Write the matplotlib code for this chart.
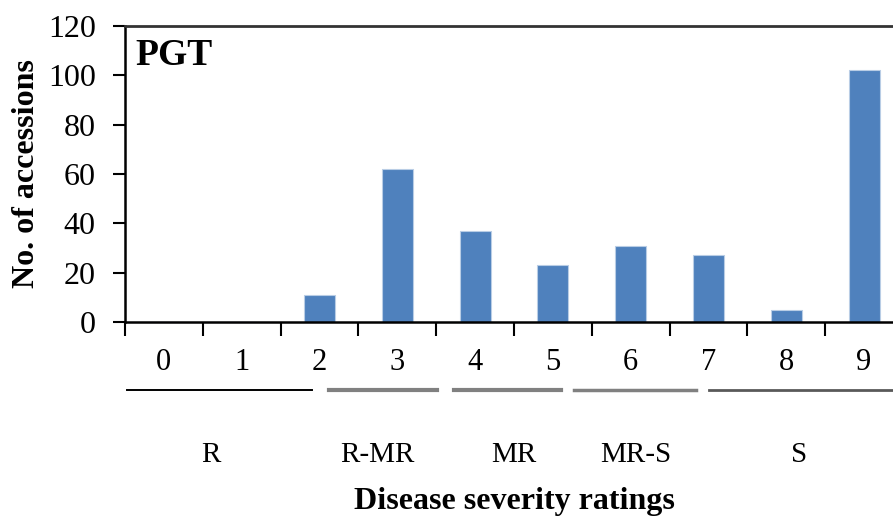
import numpy as np
import matplotlib.pyplot as plt
import matplotlib.transforms as mtransforms

plt.rcParams['font.family'] = ['Liberation Serif', 'DejaVu Serif']

ratings = ['0', '1', '2', '3', '4', '5', '6', '7', '8', '9']
accessions = [0, 0, 11, 62, 37, 23, 31, 27, 5, 102]

groups = ['R', 'R-MR', 'MR', 'MR-S', 'S']

fig = plt.figure(figsize=(8.93, 5.17), dpi=100)
ax = fig.add_axes([0.14, 0.3772, 0.8712, 0.5725])

x = np.arange(len(ratings))
ax.bar(x, accessions, width=0.4, color='#4f81bd', edgecolor='#b9cde5', linewidth=0.8, zorder=2)

ax.set_xlim(-0.5, len(ratings) - 0.5)
ax.set_ylim(0, 120)
ax.set_yticks(range(0, 121, 20))
ax.set_xticks(np.arange(-0.5, len(ratings), 1.0), minor=False)
ax.set_xticklabels([])
ax.set_xticks(x, minor=True)
ax.set_xticklabels(ratings, minor=True)
ax.tick_params(axis='x', which='major', length=10, width=1.5, direction='out')
ax.tick_params(axis='x', which='minor', length=0, pad=19, labelsize=22)
ax.tick_params(axis='y', length=9, width=1.5, direction='out', labelsize=23, pad=12)

for s in ['left', 'bottom']:
    ax.spines[s].set_linewidth(1.8)
ax.spines['top'].set_linewidth(2)
ax.spines['top'].set_color('#333333')

ax.set_ylabel('No. of accessions', fontsize=23, fontweight='bold')
ax.yaxis.set_label_coords(-0.108, 0.5)
ax.set_xlabel('Disease severity ratings', fontsize=23, fontweight='bold')
ax.xaxis.set_label_coords(0.5, -0.556)

ax.text(0.013, 0.90, 'PGT', transform=ax.transAxes, fontsize=27, fontweight='bold',
        ha='left', va='center')

# group underlines and labels below the ratings
trans = mtransforms.blended_transform_factory(ax.transData, ax.transAxes)
spans = [(-0.47, 1.9), (2.12, 3.51), (3.73, 5.1), (5.27, 6.84), (7.0, 9.6)]
colors = ['black', '#808080', '#808080', '#808080', '#595959']
widths = [1.4, 3, 3, 2.5, 2]
label_x = [0.6, 2.74, 4.5, 6.07, 8.16]
for name, (a, b), c, w, lx in zip(groups, spans, colors, widths, label_x):
    ax.plot([a, b], [-0.23, -0.23], color=c, linewidth=w, transform=trans, clip_on=False)
    ax.text(lx, -0.45, name, transform=trans, fontsize=21, ha='center', va='center')

fig.savefig('out.png', dpi=100)
